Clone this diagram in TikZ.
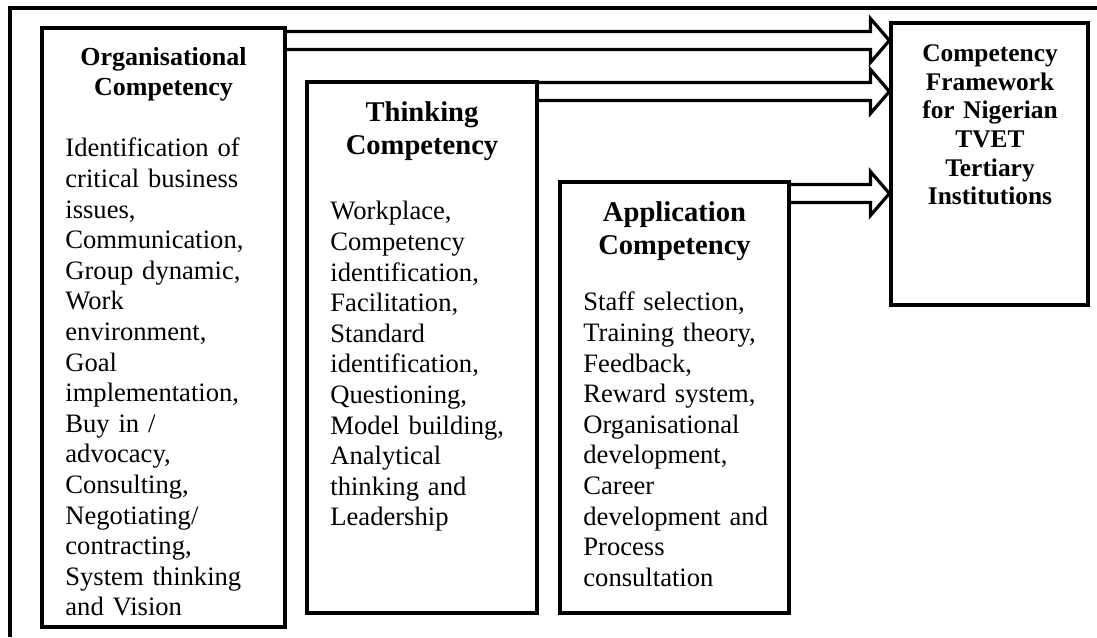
\documentclass[tikz,border=0pt]{standalone}
\usepackage{fontspec}
\setmainfont{Liberation Serif}
\usetikzlibrary{calc,fit}

\tikzset{
  box/.style={draw, line width=1.6pt, rectangle, inner sep=0pt},
  head/.style={font={\bfseries\fontsize{13}{15}\selectfont}, align=center, anchor=base, inner sep=0pt, text width=115pt},
  bighead/.style={font={\bfseries\fontsize{14.3}{16.5}\selectfont}, align=center, anchor=base, inner sep=0pt, text width=110pt},
  tvethead/.style={font={\bfseries\fontsize{12.7}{14.35}\selectfont}, align=center, anchor=base, inner sep=0pt, text width=95pt},
  body/.style={font={\fontsize{13.3}{15.3}\selectfont}, align=left, anchor=base west, inner sep=0pt, text width=#1},
  fatarrow/.style={line width=1.6pt, to path={
    let \p1=(\tikztostart), \p2=(\tikztotarget) in
    (\x1,\y1+4.5pt) -- (\x2-9.5pt,\y1+4.5pt) -- (\x2-9.5pt,\y1+11pt) -- (\x2,\y1)
    -- (\x2-9.5pt,\y1-11pt) -- (\x2-9.5pt,\y1-4.5pt) -- (\x1,\y1-4.5pt)}}
}

\begin{document}
\begin{tikzpicture}[x=0.5pt, y=-0.5pt, line join=miter]
  \useasboundingbox (0,0) rectangle (1097,637);
  \draw[line width=1.6pt] (1097,8) -- (10,8) -- (10,637);

  \node[box, fit={(42,28) (285,627)}] (org) {};
  \node[box, fit={(307,82) (537,613)}] (think) {};
  \node[box, fit={(560,182) (789,613)}] (app) {};
  \node[box, fit={(891,23) (1088,305)}] (tvet) {};

  \node[head] (orghead) at (163.5,65.5) {Organisational\\Competency};
  \node[body=110pt] (orgbody) at (65,156.8) {Identification of\\critical business\\issues,\\Communication,\\Group dynamic,\\Work\\environment,\\Goal\\implementation,\\Buy in /\\advocacy,\\Consulting,\\Negotiating/\\contracting,\\System thinking\\and Vision};

  \node[bighead] (thinkhead) at (422,121.5) {Thinking\\Competency};
  \node[body=103pt] (thinkbody) at (330,219.8) {Workplace,\\Competency\\identification,\\Facilitation,\\Standard\\identification,\\Questioning,\\Model building,\\Analytical\\thinking and\\Leadership};

  \node[bighead] (apphead) at (674.5,221.5) {Application\\Competency};
  \node[body=103pt] (appbody) at (583,310.8) {Staff selection,\\Training theory,\\Feedback,\\Reward system,\\Organisational\\development,\\Career\\development and\\Process\\consultation};

  \node[tvethead] (tvettext) at (990,61.4) {Competency\\Framework\\for Nigerian\\TVET\\Tertiary\\Institutions};

  \foreach \src/\yy in {org/40.5, think/91.5, app/193.5}
    \draw[fatarrow] (\src.east |- 0,\yy) to (tvet.west |- 0,\yy);
\end{tikzpicture}
\end{document}
